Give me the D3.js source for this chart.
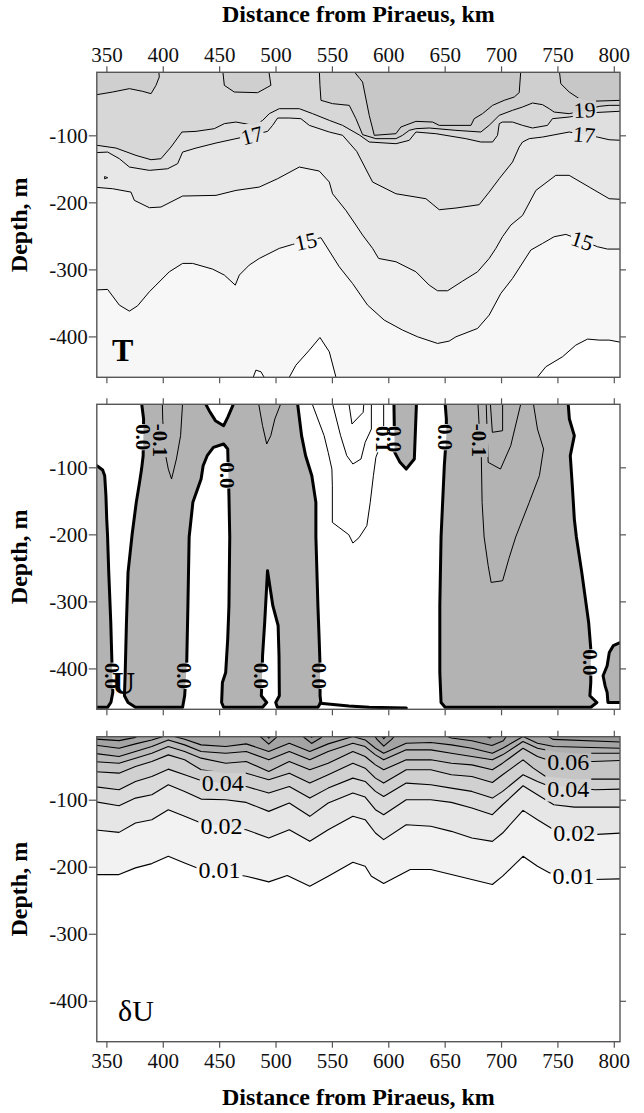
<!DOCTYPE html>
<html><head><meta charset="utf-8">
<script src="https://cdn.jsdelivr.net/npm/d3@7"></script>
<style>
body{margin:0;background:#fff}
svg{display:block}
text{font-family:'Liberation Serif','Times New Roman',serif}
</style>
</head><body>
<svg id="chart" width="644" height="1113"></svg>
<script>
// ---------------- DATA ----------------
const xTicks = [350,400,450,500,550,600,650,700,750,800];
const yTicks = [-100,-200,-300,-400];
const xTitle = "Distance from Piraeus, km";
const yTitle = "Depth, m";
const panelNames = ["T","U","δU"];

// ---- Temperature panel (T) contours: [distance km, depth m]
const tLevels = [14,15,16,17,18,19,20];
const tBandColors = ['#ffffff','#f7f7f7','#efefef','#e7e7e7','#dfdfdf','#d7d7d7','#cfcfcf','#c7c7c7'];
const T14a = [[478.2,-470],[482.6,-450.3],[487.1,-452.8],[493,-470]];
const T14b = [[509.2,-470],[518.1,-442.9],[530,-420.5],[539.4,-401.6],[547.7,-423],[555,-470]];
const T14c = [[727.9,-470],[739.7,-445.3],[754.5,-430.4],[766.3,-413],[776.7,-404],[787,-405.5],[795.9,-405.5],[807,-409]];
const T15 = [[338,-330.9],[351.1,-329.9],[361.5,-353.3],[370.4,-362.3],[377.7,-354.3],[388.1,-333.4],[394,-323.5],[405.8,-303.6],[417.6,-291.1],[426.5,-291.1],[444.2,-299.6],[454.6,-308.5],[464.3,-323.5],[467.9,-308.5],[476.7,-293.6],[485.6,-283.7],[503.3,-268.7],[515.1,-262.8],[527,-258],[540.3,-252.8],[556.5,-296.1],[568.3,-321],[581.6,-353.3],[596.4,-375.7],[612.7,-390.6],[626,-400.6],[643.7,-410.5],[654,-407],[660,-400.6],[679.2,-388.1],[689.5,-368.2],[699.8,-335.9],[710.2,-313.5],[726.4,-271.2],[736.8,-261.3],[747.1,-251.3],[757.5,-247.8],[772,-257],[785.5,-266.2],[794.4,-269.7],[807,-269.7]];
const T16 = [[338,-177.2],[355.6,-179.7],[371.8,-184.7],[374.8,-197],[388.1,-208],[398.4,-207],[417.6,-190.6],[447.2,-189.6],[464.9,-182.2],[485.6,-177.2],[501.9,-164.7],[521.1,-147.3],[538.8,-153.3],[547.7,-169.7],[550.6,-187.2],[562.4,-212],[571.3,-233.9],[577.2,-248.8],[586.1,-268.7],[591.4,-283.7],[606.8,-288.6],[624.5,-303.6],[636.3,-323.5],[643.7,-331.9],[652.6,-331.9],[665.9,-317.5],[679.2,-303.6],[689.5,-283.7],[695.4,-268.7],[701.3,-251.3],[708.7,-233.9],[719.1,-219.5],[730.9,-182.2],[748.6,-159.7],[760.4,-159.7],[778.2,-177.2],[795.9,-194.6],[807,-195.6]];
const T17 = [[338,-126],[351.1,-125],[361.5,-134.9],[370.4,-147.3],[388.1,-152.3],[404.3,-149.9],[413.2,-142.3],[417.6,-125],[429.5,-119],[447.2,-111.5],[464.9,-105],[479,-100],[493,-94.1],[497.4,-85.2],[501.9,-74.2],[512.2,-74.2],[522.5,-75.2],[530,-85.2],[547.7,-95.1],[559.5,-100],[572,-124],[586.1,-169.7],[606.8,-187.2],[633.4,-194.6],[645.2,-211],[660,-208.5],[680.6,-203.5],[689.5,-184.7],[698.4,-164.7],[710.2,-139.9],[716.1,-117.5],[719.1,-110],[725,-105],[736.8,-102.6],[760.4,-95.1],[773.7,-99],[785.5,-102.6],[795.9,-106.6],[807,-107.5]];
const T18 = [[338,-114],[358.5,-119],[376.3,-130],[389.6,-136.4],[398.4,-134.9],[407.3,-117.5],[417,-95.1],[429.5,-94.1],[445.7,-90.1],[454.6,-82.6],[464.9,-80.2],[481.2,-85.2],[488.6,-77.7],[494.5,-67.7],[503.3,-60.3],[521.1,-60.3],[532.9,-67.7],[547.7,-77.7],[559.5,-85.2],[574.8,-100],[583.1,-110],[606.8,-112.5],[618.6,-107.5],[624.5,-95.1],[642.2,-97.6],[668.8,-105],[682.1,-110],[692.5,-110],[696.9,-100],[698.4,-82.6],[701.3,-80.2],[710.2,-80.2],[719.1,-85.2],[727.9,-89.1],[741.2,-85.2],[745.6,-75.2],[760.4,-72.7],[784.1,-66],[807,-64]];
const T19a = [[338,-40.4],[355.6,-35.4],[370.4,-30.4],[382.2,-34.4],[389.6,-37.9],[394,-25.5],[396.9,-13],[396.4,-2]];
const T19b = [[453.1,-2],[454.6,-25.5],[463.4,-35.4],[484.1,-36.4],[495.9,-25.5],[493.9,-2]];
const T19c = [[538.8,-2],[539.4,-25.5],[540.3,-47.8],[550.6,-52.8],[565.4,-55.3],[571.3,-75.2],[577.2,-99],[589,-105],[606.8,-105],[612.7,-100],[618.6,-92.6],[624.5,-90.1],[636.3,-89.1],[660,-92.6],[682.1,-95.1],[689.5,-85.1],[698.4,-70.2],[710.2,-62.7],[719.1,-57.8],[727.9,-51.8],[736.8,-54.3],[742.7,-60.3],[747.1,-65.3],[760.4,-67.7],[774,-63],[787,-56.8],[795.9,-55.3],[807,-55.3]];
const T20a = [[568.3,-2],[574.8,-15.5],[577.2,-20.5],[583.1,-70.2],[587.6,-100],[606.8,-97.6],[611.2,-87.6],[624.5,-79.2],[639.3,-80.2],[645.2,-85.2],[673.3,-85.2],[676.2,-75.2],[683.6,-67.7],[692.5,-55.3],[702.8,-47.8],[711.7,-42.9],[716.1,-36.4],[717.6,-2]];
const T20b = [[751.6,-2],[753,-23],[760.4,-35.4],[769.3,-45.3],[778.2,-49.3],[807,-47.8]];
const tSpeck = [[348.4,-161.5],[351.2,-163.2],[348.4,-165],[348.4,-161.5]];
const tLabels = [
  {t:"17", x:479, y:-100, r:-15},
  {t:"19", x:774, y:-62, r:-3},
  {t:"17", x:773.7, y:-99, r:5},
  {t:"15", x:527, y:-258, r:-12},
  {t:"15", x:772, y:-257, r:18}
];

// ---- Velocity panel (U): negative regions (grey) bounded by the 0.0 contour
const uNegLeft = [[330,-97.6],[341.6,-97.6],[346.7,-104],[348.5,-112.5],[349.6,-142.4],[350.3,-177.2],[351,-200.6],[352.1,-256.8],[353.9,-331.4],[354.7,-378.6],[355.7,-436],[354,-450.8],[351,-458],[330,-458]];
const uNegBig = [[381.2,10],[381.2,-4],[383,-27.9],[382.6,-82.7],[381.2,-102.6],[379.4,-122.5],[376.5,-152.3],[372.8,-200.6],[369.2,-256.8],[367.8,-331.4],[366.7,-406],[366,-440.8],[369.2,-450.8],[375.8,-458],
  [417.6,-458],[419.4,-440.8],[421.2,-396],[422.3,-306.5],[423.4,-204],[426.7,-152.3],[434,-117.5],[435.8,-97.6],[439.4,-82.7],[444.9,-70.2],[454,-65.2],[457.6,-72.7],[458.7,-142.4],[459.4,-204],[458.7,-306.5],[457.6,-356.3],[455.8,-406],[452.9,-420.9],[452.2,-450.8],[454,-458],
  [488.5,-458],[492.2,-450.8],[487.4,-440.8],[487.8,-426],[488.5,-381],[490.4,-331.4],[492.9,-254.3],[497.6,-306.5],[502.3,-336],[503.1,-381],[503.4,-440.8],[500.2,-450.8],[501.6,-458],
  [537.6,-458],[540.2,-450.8],[539.5,-440.8],[539.5,-396],[538.7,-356.3],[537.6,-306.5],[535.8,-204],[535.8,-152.3],[532.2,-112.5],[526.7,-82.7],[523.1,-52.8],[519.5,-4],[519.5,10],
  [463.1,10],[463.1,-4],[457.6,-25.4],[454,-37.9],[446.7,-30.4],[441.2,-15.5],[437.6,-4],[437.6,10]];
const uNegSmall = [[605,10],[605,-4],[605.7,-77.7],[610.4,-92.6],[615.9,-102.6],[623.1,-87.6],[625,-4],[625,10]];
const uNegRight = [[650.4,10],[650.4,-4],[651.5,-27.9],[651.5,-52.8],[649.7,-97.6],[648.2,-152.3],[646.8,-204],[645.7,-306.5],[645.7,-406],[646.8,-450.8],[650.4,-458],
  [779.6,-458],[785,-450.8],[778.8,-440.8],[779.6,-420.9],[779.6,-371.2],[777.7,-331.4],[771.6,-256.8],[766.8,-204],[765,-177.2],[763.2,-127.5],[761.4,-82.7],[765,-52.8],[760.6,-27.9],[759.5,-4],[759.5,10]];
const uNegCorner = [[815,-361.2],[806,-361.2],[799.6,-366],[796,-376.2],[794.1,-396],[790.5,-410.9],[792.3,-426],[794.1,-435.9],[794.8,-450.8],[806,-450.8],[815,-450.8]];
const uZeroBottom = [[539.5,-452],[565,-456],[583,-458],[616,-459]];
// thin contours (±0.1, ±0.2, ±0.3)
const uM1a = [[399.4,10],[400,-30],[402,-77.7],[404.9,-102.6],[407.8,-117.5],[412.1,-87.6],[415.8,-52.8],[417.6,-4],[417.6,10]];
const uM1b = [[484.9,10],[484.9,-4],[488.5,-37.9],[492.2,-65.2],[495.8,-52.8],[499.4,-27.9],[504.9,-4],[504.9,10]];
const uP1 = [[532.2,10],[532.2,-4],[543.1,-52.8],[546.7,-77.7],[550,-102.6],[550.4,-127.5],[550.4,-182.2],[565,-200.6],[568.6,-213],[574,-205],[581,-187.1],[584,-152.3],[586.8,-112.5],[589,-85],[593,-67.7],[595.9,-42.9],[595.9,-4],[595.9,10]];
const uP2 = [[550.4,10],[550.4,-4],[557.7,-52.8],[563.2,-82.7],[568.6,-95.1],[575.8,-87.6],[579.5,-62.8],[585,-42.9],[585,-4],[585,10]];
const uP3 = [[565,10],[565,-4],[567.8,-35.4],[577.7,-18],[578.4,-4],[578.4,10]];
const uM1c = [[679.5,10],[679.5,-4],[680.6,-37.9],[682.5,-82.7],[683.2,-152.3],[685,-204],[688.6,-246.8],[691.2,-271.7],[701.4,-269.2],[707,-236],[713,-204],[725,-152.3],[734,-112.5],[737.7,-72.7],[732.3,-42.9],[728.6,-4],[728.6,10]];
const uM2 = [[686.8,10],[686.8,-4],[688.6,-92.6],[699.5,-102.6],[708.6,-67.7],[717.7,-4],[717.7,10]];
const uM3 = [[690.5,10],[690.5,-4],[692.3,-47.8],[701.4,-45.4],[701.4,-4],[701.4,10]];
const uLabels = [
  {t:"0.0", x:382.6, y:-55}, {t:"-0.1", x:397.5, y:-60}, {t:"0.0", x:457.6, y:-112},
  {t:"0.1", x:595.5, y:-58}, {t:"0.0", x:605.3, y:-58},
  {t:"0.0", x:650.4, y:-55}, {t:"-0.1", x:681, y:-60},
  {t:"0.0", x:355.7, y:-411}, {t:"0.0", x:419.4, y:-411}, {t:"0.0", x:487.2, y:-411},
  {t:"0.0", x:539, y:-411}, {t:"0.0", x:779.6, y:-391}
];

// ---- δU panel contours
const duLevels = [0.01,0.02,0.03,0.04,0.05,0.06,0.07,0.08,0.09,0.10];
const duBandColors = ['#ffffff','#f2f2f2','#e6e6e6','#dbdbdb','#d0d0d0','#c5c5c5','#bababa','#afafaf','#a4a4a4','#999999','#8e8e8e'];
const DU01 = [[338,-211.7],[361.2,-211.7],[375.8,-201.7],[390.3,-195.3],[404.9,-184.4],[419.4,-194.3],[434,-204.2],[474,-214.1],[494,-222.6],[510.4,-213.1],[530.4,-229],[546.7,-214.1],[568.6,-193.3],[579.5,-199.3],[585,-214.1],[595.9,-225],[619.5,-204.2],[637.7,-204.2],[655.9,-211.7],[674.1,-219.1],[692.3,-226.5],[701.4,-214.1],[719.5,-184.4],[732.3,-199.3],[743.2,-209.2],[781.4,-219.1],[807,-218.1]];
const DU02 = [[338,-144.7],[361.2,-148.7],[375.8,-134.8],[390.3,-129.8],[404.9,-114.9],[419.4,-124.8],[434,-134.8],[474,-144.7],[494,-157.1],[512.2,-144.7],[530.4,-162.1],[546.7,-144.7],[568.6,-124.8],[579.5,-129.8],[588.6,-149.7],[595.9,-159.6],[615.9,-137.3],[637.7,-139.7],[655.9,-147.2],[674.1,-157.1],[692.3,-162.1],[701.4,-149.7],[719.5,-115.9],[732.3,-129.8],[746.8,-144.7],[781.4,-152.1],[807,-149.7]];
const DU03 = [[338,-102.5],[361.2,-109],[375.8,-97.6],[390.3,-92.6],[404.9,-77.7],[419.4,-87.6],[434,-99.1],[455.8,-100],[474,-104],[494,-117.4],[512.2,-105],[530.4,-124.8],[546.7,-105],[568.6,-90.1],[579.5,-96.1],[588.6,-114.9],[595.9,-122.4],[615.9,-100],[637.7,-100],[655.9,-104],[674.1,-112.4],[692.3,-122.4],[701.4,-107.5],[719.5,-79.2],[732.3,-92.6],[746.8,-107.5],[765,-111],[807,-111]];
const DU04 = [[338,-80.2],[361.2,-85.2],[375.8,-72.8],[390.3,-65.3],[404.9,-54.4],[419.4,-62.8],[434,-71.3],[474,-80.2],[494,-90.1],[512.2,-80.2],[530.4,-97.6],[546.7,-82.7],[568.6,-67.8],[579.5,-72.8],[588.6,-87.6],[595.9,-95.1],[615.9,-75.2],[637.7,-77.7],[655.9,-82.7],[674.1,-87.6],[692.3,-97.6],[701.4,-87.6],[719.5,-62.8],[732.3,-72.8],[739.6,-77.7],[783.2,-85.2],[807,-84.2]];
const DU05 = [[338,-57.9],[361.2,-60.4],[375.8,-50.4],[390.3,-43],[404.9,-33.1],[419.4,-40.5],[434,-55.4],[455.8,-60.4],[474,-60.4],[494,-70.3],[512.2,-60.4],[530.4,-75.2],[546.7,-62.8],[568.6,-45.5],[579.5,-52.9],[588.6,-67.8],[595.9,-75.2],[615.9,-55.4],[637.7,-55.4],[655.9,-62.8],[674.1,-65.3],[692.3,-74.3],[701.4,-62.8],[719.5,-40.5],[728.6,-52.9],[739.6,-65.3],[765,-69.3],[807,-69.3]];
const DU06 = [[338,-43],[361.2,-45.5],[375.8,-38],[390.3,-30.6],[404.9,-20.7],[419.4,-28.1],[434,-38],[455.8,-45.5],[474,-43],[494,-57.9],[512.2,-43],[530.4,-55.4],[546.7,-45.5],[568.6,-28.1],[579.5,-35.6],[588.6,-48],[595.9,-55.4],[615.9,-40.5],[637.7,-40.5],[655.9,-45.5],[674.1,-48],[692.3,-55.4],[701.4,-45.5],[719.5,-23.2],[732.3,-35.6],[739.6,-39.5],[781.4,-43],[807,-41.5]];
const DU07 = [[338,-30.6],[361.2,-35.6],[375.8,-28.1],[390.3,-20.7],[404.9,-10.8],[419.4,-18.2],[434,-28.1],[455.8,-30.6],[474,-28.1],[494,-40.5],[512.2,-28.1],[530.4,-40.5],[546.7,-28.1],[568.6,-15.7],[579.5,-20.7],[588.6,-33.1],[595.9,-40.5],[615.9,-25.6],[637.7,-25.6],[655.9,-30.6],[674.1,-35.6],[692.3,-40.5],[701.4,-33.1],[719.5,-13.2],[732.3,-23.2],[746.8,-28.1],[765,-30.6],[807,-30.6]];
const DU08 = [[338,-18.2],[361.2,-23.2],[375.8,-16.7],[390.3,-10.8],[404.9,-3.3],[419.4,-9.8],[434,-18.2],[455.8,-20.7],[474,-16.7],[494,-28.1],[512.2,-15.7],[530.4,-28.1],[546.7,-16.7],[568.6,-5.8],[579.5,-10.8],[588.6,-23.2],[595.9,-30.6],[615.9,-15.7],[637.7,-14.7],[655.9,-18.2],[674.1,-23.2],[692.3,-30.6],[701.4,-23.2],[719.5,-5.8],[732.3,-15.7],[746.8,-20.7],[807,-23.2]];
const DU09a = [[338,-9.3],[361.2,-11.8],[375.8,-7],[383,2]];
const DU09b = [[480,2],[488,-8],[494,-17],[500,-8],[506,2]];
const DU09c = [[520,2],[526,-8],[532,-16],[540,-8],[546,2]];
const DU09d = [[585,2],[590,-10],[596,-20],[603,-10],[609,2]];
const DU09e = [[640,2],[656,-8],[674,-12],[692,-19],[702,-12],[708,2]];
const DU09f = [[735,2],[746,-10],[807,-14]];
const DU10a = [[489,2],[494,-8],[500,2]];
const DU10b = [[528,2],[532,-7],[537,2]];
const DU10c = [[591,2],[596,-9],[602,2]];
const DU10d = [[678,2],[690,-8],[698,2]];
const duLabels = [
  {t:"0.04", x:453.2, y:-75.2}, {t:"0.02", x:452, y:-138.7}, {t:"0.01", x:450.3, y:-204.2},
  {t:"0.06", x:759.6, y:-43}, {t:"0.04", x:759.6, y:-82.7}, {t:"0.02", x:765, y:-149.7}, {t:"0.01", x:764.3, y:-213}
];

// ---------------- DRAWING ----------------
const W = 644, H = 1113, PH = 305;
const svg = d3.select('#chart');
const defs = svg.append('defs');
const x = d3.scaleLinear().domain([341.5, 805.5]).range([96.8, 620]);
const panelTops = [72.3, 404.3, 736.7];
const AX = '#555';

function makePanel(i){
  const top = panelTops[i];
  const y = d3.scaleLinear().domain([-6, -461]).range([top, top + PH]);
  const id = 'p' + i;
  defs.append('clipPath').attr('id', id + 'c').append('rect')
    .attr('x', x.range()[0]).attr('y', top).attr('width', x.range()[1] - x.range()[0]).attr('height', PH);
  const mask = defs.append('mask').attr('id', id + 'm').attr('maskUnits', 'userSpaceOnUse')
    .attr('x', 0).attr('y', 0).attr('width', W).attr('height', H);
  mask.append('rect').attr('width', W).attr('height', H).attr('fill', '#fff');
  const g = svg.append('g').attr('clip-path', `url(#${id}c)`);
  const fills = g.append('g');
  const under = g.append('g');
  const lines = g.append('g').attr('mask', `url(#${id}m)`);
  const labels = g.append('g');
  const line = d3.line().x(d => x(d[0])).y(d => y(d[1]));
  return {top, y, g, fills, under, lines, labels, mask, line};
}

function closed(pts, yEdge){
  return pts.concat([[pts[pts.length-1][0], yEdge], [pts[0][0], yEdge]]);
}

function addLabel(P, lab, rot, style){
  const tr = `translate(${x(lab.x)},${P.y(lab.y)}) rotate(${rot})`;
  const t = P.labels.append('text').attr('transform', tr)
    .attr('text-anchor', 'middle').attr('dy', '0.35em')
    .attr('font-size', style.size).attr('font-weight', style.weight || 'normal')
    .attr('fill', '#000').text(lab.t);
  const bb = t.node().getBBox();
  const pad = style.pad || 0;
  P.mask.append('rect').attr('transform', tr)
    .attr('x', bb.x - pad).attr('y', bb.y + (style.shrink||0)).attr('width', bb.width + 2*pad)
    .attr('height', bb.height - 2*(style.shrink||0)).attr('fill', '#000');
}

function axes(P, o){
  const top = P.top, bot = P.top + PH;
  const styleAxis = g => {
    g.select('.domain').remove();
    g.selectAll('.tick line').attr('stroke', AX).attr('stroke-width', 1.2);
    g.selectAll('.tick text').attr('font-size', 21).attr('fill', '#111')
      .style('font-family', "'Liberation Serif','Times New Roman',serif");
  };
  svg.append('g').attr('transform', `translate(0,${top})`)
    .call(d3.axisTop(x).tickValues(xTicks).tickSize(6).tickPadding(4)
      .tickFormat(o.topLabels ? d3.format('d') : () => '')).call(styleAxis);
  svg.append('g').attr('transform', `translate(0,${bot})`)
    .call(d3.axisBottom(x).tickValues(xTicks).tickSize(6).tickPadding(5)
      .tickFormat(o.bottomLabels ? d3.format('d') : () => '')).call(styleAxis);
  svg.append('g').attr('transform', `translate(${x.range()[0]},0)`)
    .call(d3.axisLeft(P.y).tickValues(yTicks).tickSize(8).tickPadding(1).tickFormat(d => String(d)))
    .call(styleAxis);
  svg.append('g').attr('transform', `translate(${x.range()[1]},0)`)
    .call(d3.axisRight(P.y).tickValues(yTicks).tickSize(6).tickFormat(() => ''))
    .call(styleAxis);
  svg.append('rect').attr('x', x.range()[0]).attr('y', top)
    .attr('width', x.range()[1] - x.range()[0]).attr('height', PH)
    .attr('fill', 'none').attr('stroke', AX).attr('stroke-width', 1.4);
  svg.append('text').attr('transform', `translate(27,${top + PH/2}) rotate(-90)`)
    .attr('text-anchor', 'middle').attr('font-size', 24).attr('font-weight', 'bold')
    .attr('fill', '#000').text(yTitle);
}

// ---- Panel 1: T
const P1 = makePanel(0);
P1.fills.append('rect').attr('x', 0).attr('y', 0).attr('width', W).attr('height', H).attr('fill', tBandColors[1]);
const tPieces = [
  {level:14, side:'below', pts:T14a}, {level:14, side:'below', pts:T14b}, {level:14, side:'below', pts:T14c},
  {level:15, side:'above', pts:T15}, {level:16, side:'above', pts:T16}, {level:17, side:'above', pts:T17},
  {level:18, side:'above', pts:T18},
  {level:19, side:'above', pts:T19a}, {level:19, side:'above', pts:T19b}, {level:19, side:'above', pts:T19c},
  {level:20, side:'above', pts:T20a}, {level:20, side:'above', pts:T20b}
];
tPieces.forEach(p => {
  const li = tLevels.indexOf(p.level);
  const col = p.side === 'below' ? tBandColors[li] : tBandColors[li + 1];
  P1.fills.append('path').attr('d', P1.line(closed(p.pts, p.side === 'below' ? -480 : 12)) + 'Z')
    .attr('fill', col).attr('stroke', 'none');
  P1.lines.append('path').attr('d', P1.line(p.pts)).attr('fill', 'none')
    .attr('stroke', '#000').attr('stroke-width', 1).attr('stroke-linejoin', 'round');
});
P1.lines.append('path').attr('d', P1.line(tSpeck)).attr('fill', 'none').attr('stroke', '#000').attr('stroke-width', 0.9);
tLabels.forEach(l => addLabel(P1, l, l.r, {size: 22, pad: 1}));
P1.labels.append('text').attr('x', 112).attr('y', 361).attr('font-size', 32).attr('font-weight', 'bold').text(panelNames[0]);
axes(P1, {topLabels: true});

// ---- Panel 2: U
const P2 = makePanel(1);
const uNeg = [uNegLeft, uNegBig, uNegSmall, uNegRight, uNegCorner];
uNeg.forEach(poly => {
  P2.fills.append('path').attr('d', P2.line(poly) + 'Z').attr('fill', '#b3b3b3').attr('stroke', 'none');
});
P2.under.append('text').attr('x', 112).attr('y', 694).attr('font-size', 32).attr('font-weight', 'bold').text(panelNames[1]);
[uM1a, uM1b, uP1, uP2, uP3, uM1c, uM2, uM3].forEach(pts => {
  P2.lines.append('path').attr('d', P2.line(pts)).attr('fill', 'none').attr('stroke', '#000')
    .attr('stroke-width', 1).attr('stroke-linejoin', 'round');
});
uNeg.forEach(poly => {
  P2.lines.append('path').attr('d', P2.line(poly) + 'Z').attr('fill', 'none').attr('stroke', '#000')
    .attr('stroke-width', 3).attr('stroke-linejoin', 'round');
});
P2.lines.append('path').attr('d', P2.line(uZeroBottom)).attr('fill', 'none').attr('stroke', '#000')
  .attr('stroke-width', 3).attr('stroke-linecap', 'round');
uLabels.forEach(l => addLabel(P2, l, 90, {size: 21, weight: 'bold', pad: 0, shrink: 3}));
axes(P2, {});

// ---- Panel 3: δU
const P3 = makePanel(2);
const duPieces = [
  {level:0.01, pts:DU01}, {level:0.02, pts:DU02}, {level:0.03, pts:DU03}, {level:0.04, pts:DU04},
  {level:0.05, pts:DU05}, {level:0.06, pts:DU06}, {level:0.07, pts:DU07}, {level:0.08, pts:DU08},
  {level:0.09, pts:DU09a}, {level:0.09, pts:DU09b}, {level:0.09, pts:DU09c}, {level:0.09, pts:DU09d},
  {level:0.09, pts:DU09e}, {level:0.09, pts:DU09f},
  {level:0.10, pts:DU10a}, {level:0.10, pts:DU10b}, {level:0.10, pts:DU10c}, {level:0.10, pts:DU10d}
];
P3.fills.append('rect').attr('x', 0).attr('y', 0).attr('width', W).attr('height', H).attr('fill', duBandColors[0]);
duPieces.forEach(p => {
  const li = duLevels.indexOf(p.level);
  P3.fills.append('path').attr('d', P3.line(closed(p.pts, 12)) + 'Z').attr('fill', duBandColors[li + 1]);
  P3.lines.append('path').attr('d', P3.line(p.pts)).attr('fill', 'none').attr('stroke', '#000')
    .attr('stroke-width', 1.1).attr('stroke-linejoin', 'round');
});
duLabels.forEach(l => addLabel(P3, l, 0, {size: 24, pad: 2}));
P3.labels.append('text').attr('x', 118).attr('y', 1021).attr('font-size', 30).text(panelNames[2]);
axes(P3, {bottomLabels: true});

// ---- titles
svg.append('text').attr('x', 358.4).attr('y', 22).attr('text-anchor', 'middle')
  .attr('font-size', 24).attr('font-weight', 'bold').text(xTitle);
svg.append('text').attr('x', 358.4).attr('y', 1105).attr('text-anchor', 'middle')
  .attr('font-size', 24).attr('font-weight', 'bold').text(xTitle);
</script>
</body></html>
